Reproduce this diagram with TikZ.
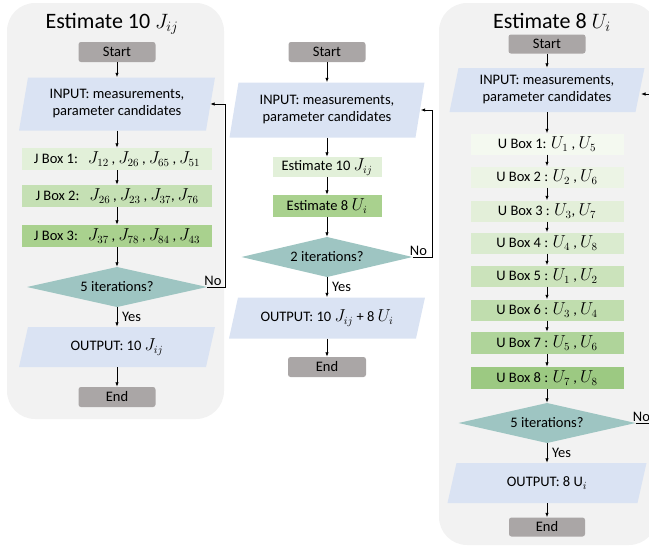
\documentclass[tikz,border=0pt]{standalone}
\usepackage{fontspec}
\setmainfont{Carlito}
\usetikzlibrary{arrows.meta,calc}
\definecolor{panel}{HTML}{F2F2F2}
\definecolor{startc}{HTML}{AAA6A6}
\definecolor{inblue}{HTML}{DAE3F3}
\definecolor{dia}{HTML}{9EC5C2}
\definecolor{gA}{HTML}{E2F0D9}
\definecolor{gC}{HTML}{C5E0B4}
\definecolor{gE}{HTML}{A9D18E}
\definecolor{uA}{HTML}{F4F9F0}
\definecolor{uB}{HTML}{ECF4E5}
\definecolor{uC}{HTML}{E3EFD9}
\definecolor{uD}{HTML}{DAEBCF}
\definecolor{uE}{HTML}{CBE3BB}
\definecolor{uF}{HTML}{C0DDAE}
\definecolor{uG}{HTML}{AFD49A}
\definecolor{uH}{HTML}{9CC982}
\newcommand{\mth}[1]{{\fontsize{16}{16}\selectfont$#1$}}
\newcommand{\jc}{\hspace{3pt},\hspace{3pt}}
\begin{document}
\begin{tikzpicture}[x=1pt,y=-1pt,
  font=\fontsize{14.5}{17}\selectfont,
  term/.style={fill=startc, rounded corners=2.5pt, minimum width=77pt, minimum height=20pt, inner sep=0pt},
  gbox/.style={minimum height=22pt, inner sep=0pt},
  ubox/.style={minimum height=21pt, minimum width=153pt, inner sep=0pt},
  dec/.style={inner sep=0pt, minimum height=40pt, path picture={\fill[dia] (path picture bounding box.north) -- (path picture bounding box.east) -- (path picture bounding box.south) -- (path picture bounding box.west) -- cycle;}},
  para/.style={inner sep=0pt, align=center, path picture={\fill[inblue] ([xshift=9pt]path picture bounding box.north west) -- (path picture bounding box.north east) -- ([xshift=-9pt]path picture bounding box.south east) -- (path picture bounding box.south west) -- cycle;}},
  arr/.style={-{Latex[length=4.5pt,width=3.5pt]}, line width=0.8pt},
  nolbl/.style={anchor=south west, inner sep=1pt},
  yeslbl/.style={anchor=west, inner sep=0pt},
  ttl/.style={font=\fontsize{22}{24}\selectfont}
]
\useasboundingbox (0,0) rectangle (649,550);
\clip (0,0) rectangle (649,550);
% panels
\fill[panel, rounded corners=28pt] (7,3) rectangle (224,419);
\fill[panel, rounded corners=28pt] (439,3) rectangle (657,545);

% ---------- left ----------
\node[ttl] (t1) at (112,24) {Estimate 10 $J_{ij}$};
\node[term] (s1) at (117,52) {Start};
\node[para, minimum width=196pt, minimum height=53pt] (in1) at (117,104) {INPUT: measurements,\\parameter candidates};
\node[gbox, fill=gA, minimum width=190pt] (jb1) at (117,159) {J Box 1:\hspace{10pt}\mth{J_{12}}\jc\mth{J_{26}}\jc\mth{J_{65}}\jc\mth{J_{51}}};
\node[gbox, fill=gC, minimum width=190pt] (jb2) at (117,196) {J Box 2:\hspace{10pt}\mth{J_{26}}\jc\mth{J_{23}}\jc\mth{J_{37}},\hspace{3pt}\mth{J_{76}}};
\node[gbox, fill=gE, minimum width=190pt] (jb3) at (117,236) {J Box 3:\hspace{10pt}\mth{J_{37}}\jc\mth{J_{78}}\jc\mth{J_{84}}\jc\mth{J_{43}}};
\node[dec, minimum width=180pt] (d1) at (117,287) {5 iterations?};
\node[para, minimum width=196pt, minimum height=40pt] (o1) at (117,347) {OUTPUT: 10 \mth{J_{ij}}};
\node[term] (e1) at (117,397) {End};
\coordinate (fb1) at ([xshift=-5pt]in1.east);
\draw[arr] (s1) -- (in1);
\draw[arr] (in1) -- (jb1);
\draw[arr] (jb1) -- (jb2);
\draw[arr] (jb2) -- (jb3);
\draw[arr] (jb3) -- (d1);
\draw[arr] (d1) -- (o1);
\draw[arr] (o1) -- (e1);
\draw[arr] (d1.east) -- ++(18,0) |- (fb1);
\node[nolbl] (no1) at ([xshift=-4pt]d1.east) {No};
\node[yeslbl] (yes1) at ($(d1.south)!0.5!(o1.north)+(5,0)$) {Yes};

% ---------- middle ----------
\node[term] (s2) at (327,52) {Start};
\node[para, minimum width=195pt, minimum height=55pt] (in2) at (327,110) {INPUT: measurements,\\parameter candidates};
\node[gbox, fill=gA, minimum width=109pt, minimum height=20pt] (ej) at (327,167) {Estimate 10 \mth{J_{ij}}};
\node[gbox, fill=gE, minimum width=109pt] (eu) at (327,206) {Estimate 8 \mth{U_i}};
\node[dec, minimum width=171pt] (d2) at (327,257) {2 iterations?};
\node[para, minimum width=196pt, minimum height=41pt] (o2) at (327,318) {OUTPUT: 10 \mth{J_{ij}} + 8 \mth{U_i}};
\node[term, minimum width=78pt] (e2) at (327,367) {End};
\coordinate (fb2) at ([xshift=-4pt]in2.east);
\draw[arr] (s2) -- (in2);
\draw[arr] (in2) -- (ej);
\draw[arr] (ej) -- (eu);
\draw[arr] (eu) -- (d2);
\draw[arr] (d2) -- (o2);
\draw[arr] (o2) -- (e2);
\draw[arr] (d2.east) -- ++(20,0) |- (fb2);
\node[nolbl] (no2) at ([xshift=-4pt]d2.east) {No};
\node[yeslbl] (yes2) at ($(d2.south)!0.5!(o2.north)+(5,0)$) {Yes};

% ---------- right ----------
\node[ttl] (t3) at (552,22) {Estimate 8 $U_i$};
\node[term, minimum height=19pt] (s3) at (547,44) {Start};
\node[para, minimum width=195pt, minimum height=44pt] (in3) at (547,90) {INPUT: measurements,\\parameter candidates};
\node[ubox, fill=uA] (ub1) at (547,144) {U Box 1: \mth{U_1} , \mth{U_5}};
\node[ubox, fill=uB] (ub2) at (547,177) {U Box 2 : \mth{U_2} , \mth{U_6}};
\node[ubox, fill=uC] (ub3) at (547,211) {U Box 3 : \mth{U_3}, \mth{U_7}};
\node[ubox, fill=uD] (ub4) at (547,243) {U Box 4 : \mth{U_4} , \mth{U_8}};
\node[ubox, fill=uE] (ub5) at (547,276) {U Box 5 : \mth{U_1} , \mth{U_2}};
\node[ubox, fill=uF] (ub6) at (547,310) {U Box 6 : \mth{U_3} , \mth{U_4}};
\node[ubox, fill=uG, minimum height=22pt] (ub7) at (547,343) {U Box 7 : \mth{U_5} , \mth{U_6}};
\node[ubox, fill=uH, minimum height=22pt] (ub8) at (547,378) {U Box 8 : \mth{U_7} , \mth{U_8}};
\node[dec, minimum width=177pt] (d3) at (547,423) {5 iterations?};
\node[para, minimum width=199pt, minimum height=40pt] (o3) at (547,483) {OUTPUT: 8 U\mth{{}_i}};
\node[term, minimum width=76pt, minimum height=19pt] (e3) at (547,527) {End};
\coordinate (fb3) at (641,94);
\draw[arr] (s3) -- (in3);
\draw[arr] (in3) -- (ub1);
\draw[arr] (ub1) -- (ub2);
\draw[arr] (ub2) -- (ub3);
\draw[arr] (ub3) -- (ub4);
\draw[arr] (ub4) -- (ub5);
\draw[arr] (ub5) -- (ub6);
\draw[arr] (ub6) -- (ub7);
\draw[arr] (ub7) -- (ub8);
\draw[arr] (ub8) -- (d3);
\draw[arr] (d3) -- (o3);
\draw[arr] (o3) -- (e3);
\draw[arr] (d3.east) -- ++(30,0) |- (fb3);
\node[nolbl] (no3) at ([xshift=-4pt]d3.east) {No};
\node[yeslbl] (yes3) at ($(d3.south)!0.5!(o3.north)+(5,0)$) {Yes};
\end{tikzpicture}
\end{document}
